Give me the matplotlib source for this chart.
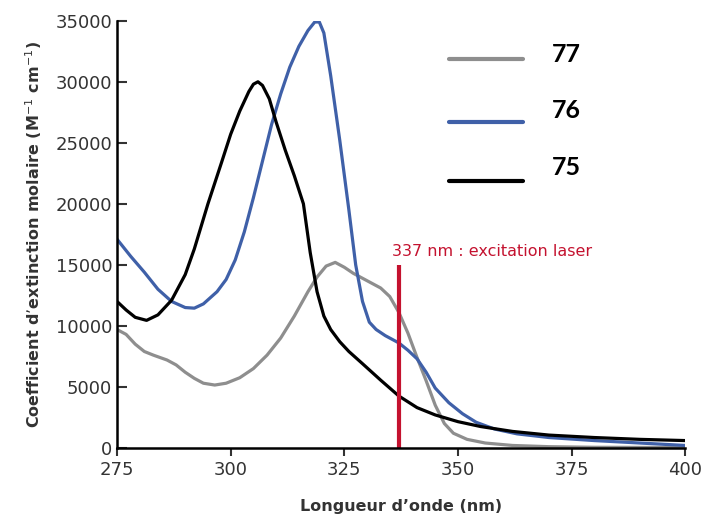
import matplotlib
matplotlib.use('Agg')
import matplotlib.pyplot as plt

# wavelength (nm) / molar extinction coefficient
wl_75 = [275, 277, 279, 281.5, 284, 287, 290, 292, 295, 298, 300, 302, 304, 305, 306, 307,
         308.5, 310, 312, 314, 316, 317.5, 319, 320.5, 322, 324, 326, 329, 333, 337,
         341, 345, 350, 355, 362, 370, 380, 390, 400]
eps_75 = [12000, 11300, 10700, 10450, 10900, 12100, 14200, 16300, 20000, 23400, 25700,
          27600, 29200, 29800, 30000, 29700, 28600, 26700, 24400, 22300, 20000, 16000, 12800,
          10800, 9700, 8700, 7900, 6900, 5550, 4250, 3300, 2700, 2150, 1750, 1350, 1050,
          850, 700, 600]

wl_76 = [275, 278, 281, 284, 287, 290, 292, 294, 297, 299, 301, 303, 305, 307, 309, 311,
         313, 315, 317, 318.5, 319.5, 320.5, 322, 324, 326, 327.5, 329, 330.5, 332, 334,
         337, 339, 341, 343, 345, 348, 351, 354, 358, 363, 370, 380, 390, 400]
eps_76 = [17100, 15700, 14400, 13000, 12000, 11500, 11450, 11800, 12800, 13800, 15400,
          17700, 20500, 23500, 26500, 29000, 31200, 32900, 34200, 34900, 34900, 34000,
          30500, 25200, 19500, 15000, 12000, 10300, 9700, 9200, 8600, 8000, 7300, 6200,
          4900, 3700, 2800, 2100, 1550, 1150, 850, 600, 400, 200]

wl_77 = [275, 277, 279, 281, 283, 286, 288, 290, 292, 294, 296.5, 299, 302, 305, 308, 311,
         314, 317, 319, 321, 323, 325, 327, 329, 331, 333, 335, 337, 339, 341, 343, 345,
         347, 349, 352, 356, 362, 370, 380, 400]
eps_77 = [9700, 9300, 8500, 7900, 7600, 7200, 6800, 6200, 5700, 5300, 5150, 5300, 5750,
          6500, 7600, 9000, 10800, 12800, 14000, 14900, 15200, 14800, 14300, 13900, 13500,
          13100, 12400, 11100, 9400, 7400, 5500, 3500, 2000, 1200, 700, 400, 200, 100, 50, 30]

laser_nm = 337
laser_top = 15000
x_ticks = [275, 300, 325, 350, 375, 400]
y_ticks = [0, 5000, 10000, 15000, 20000, 25000, 30000, 35000]

fig = plt.figure(figsize=(7.05, 5.19), dpi=100)
ax = fig.add_axes([0.166, 0.137, 0.806, 0.823])

ax.plot(wl_77, eps_77, color='#8e8e8e', lw=2.3, solid_capstyle='round')
ax.plot(wl_76, eps_76, color='#3f60a8', lw=2.3, solid_capstyle='round')
ax.plot(wl_75, eps_75, color='black', lw=2.3, solid_capstyle='round')
ax.vlines(laser_nm, 0, laser_top, color='#c4122f', lw=3)
ax.text(laser_nm - 1.6, laser_top + 450, '337 nm : excitation laser', color='#c4122f',
        fontsize=11.5, va='bottom', ha='left')

ax.set_xlim(275, 400)
ax.set_ylim(0, 35000)
ax.set_xticks(x_ticks)
ax.set_yticks(y_ticks)
ax.spines['top'].set_visible(False)
ax.spines['right'].set_visible(False)
ax.spines['left'].set_linewidth(1.8)
ax.spines['bottom'].set_linewidth(1.8)
ax.tick_params(axis='y', direction='in', length=7, width=1.5, labelsize=13, colors='#333333')
ax.tick_params(axis='x', direction='out', length=6, width=1.5, labelsize=13, colors='#333333')
ax.set_ylabel("Coefficient d\u2019extinction molaire (M$^{-1}$ cm$^{-1}$)", fontsize=11.5,
              fontweight='bold', color='#333333', labelpad=8)
ax.set_xlabel("Longueur d\u2019onde (nm)", fontsize=11.5, fontweight='bold', color='#333333',
              labelpad=14)

# hand-drawn style legend
legend = [('77', '#8e8e8e', 0.91, 0.895), ('76', '#3f60a8', 0.762, 0.763), ('75', 'black', 0.624, 0.63)]
for lab, col, yy, ty in legend:
    ax.plot([0.585, 0.715], [yy, yy], transform=ax.transAxes, color=col, lw=3,
            solid_capstyle='round', clip_on=False)
    ax.text(0.765, ty, lab, transform=ax.transAxes, fontsize=18, fontweight='bold',
            va='bottom', ha='left', family='Lato')

fig.savefig('out.png', dpi=100)
